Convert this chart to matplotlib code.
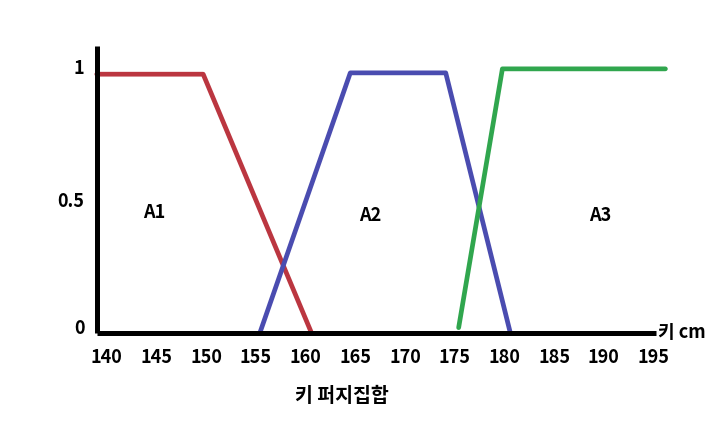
import matplotlib
matplotlib.use("Agg")
import matplotlib.pyplot as plt
from matplotlib.transforms import ScaledTranslation

plt.rcParams['font.family'] = ['Noto Sans CJK KR', 'DejaVu Sans']

# Data (membership functions of height fuzzy sets)
a1_x = [139, 149.7, 160.6]
a1_y = [0.97, 0.97, 0.0]
a2_x = [155.4, 164.5, 174.1, 180.6]
a2_y = [0.0, 0.975, 0.975, 0.0]
a3_x = [175.4, 179.8, 196.2]
a3_y = [0.02, 0.99, 0.99]

x_ticks = [140, 145, 150, 155, 160, 165, 170, 175, 180, 185, 190, 195]
y_ticks = [0, 0.5, 1]
y_tick_labels = ['0', '0.5', '1']
set_labels = ['A1', 'A2', 'A3']
set_label_pos = [(144.8, 0.453), (166.5, 0.44), (189.6, 0.44)]
x_unit_label = '키 cm'
title_text = '키 퍼지집합'

fig = plt.figure(figsize=(7.17, 4.30), dpi=100)
ax = fig.add_axes([0.135, 0.2256, 0.80, 0.667])
ax.set_xlim(139, 196.7)
ax.set_ylim(0, 1.075)

lw = 3.4
ax.plot(a1_x, a1_y, color='#bb3640', lw=lw, solid_capstyle='round', clip_on=False)
ax.plot(a2_x, a2_y, color='#4a4cb0', lw=lw, solid_capstyle='round', clip_on=False)
ax.plot(a3_x, a3_y, color='#30a64e', lw=lw, solid_capstyle='round', clip_on=False)

for s in ['top', 'right']:
    ax.spines[s].set_visible(False)
for s in ['left', 'bottom']:
    ax.spines[s].set_linewidth(3.6)
    ax.spines[s].set_color('black')
    ax.spines[s].set_capstyle('butt')
ax.spines['bottom'].set_bounds(139, 195.3)

fs = 13
ax.set_xticks(x_ticks)
ax.set_xticklabels([str(v) for v in x_ticks], fontsize=fs, fontweight='bold')
ax.set_yticks(y_ticks)
ax.set_yticklabels(y_tick_labels, fontsize=fs, fontweight='bold')
ax.tick_params(axis='x', length=0, pad=11)
ax.tick_params(axis='y', length=0, pad=9)
# lift the "0" label slightly as in the reference
zero_lbl = ax.get_yticklabels()[0]
zero_lbl.set_transform(zero_lbl.get_transform() + ScaledTranslation(0, 6/100, fig.dpi_scale_trans))

for (px, py), t in zip(set_label_pos, set_labels):
    ax.text(px, py, t, fontsize=fs, fontweight='bold', ha='center', va='center')

ax.text(195.5, 0.0, x_unit_label, fontsize=fs, fontweight='bold', ha='left', va='center',
        clip_on=False)
fig.text(0.477, 0.077, title_text, fontsize=14, fontweight='bold', ha='center', va='center')

fig.savefig('out.png', dpi=100, facecolor='white')
